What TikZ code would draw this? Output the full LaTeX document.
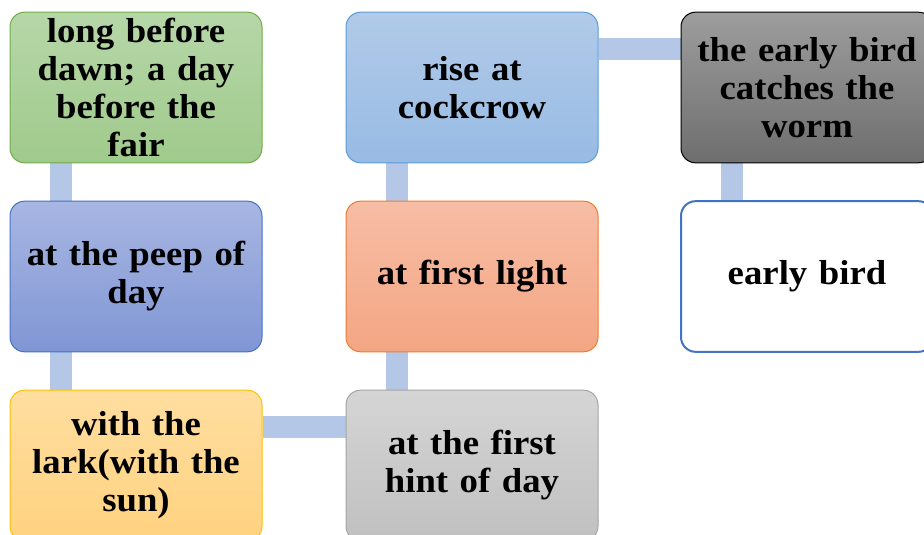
\documentclass[tikz,border=0pt]{standalone}
\usepackage{fontspec}
\setmainfont{Liberation Serif}
\newfontfamily\boxfont{Liberation Serif}[FakeStretch=1.06]
\usetikzlibrary{backgrounds}

\definecolor{linkblue}{HTML}{B4C7E7}
\definecolor{greenline}{HTML}{70AD47}
\definecolor{blueline}{HTML}{5B9BD5}
\definecolor{indigoline}{HTML}{4472C4}
\definecolor{orangeline}{HTML}{ED7D31}
\definecolor{goldline}{HTML}{FFC000}
\definecolor{greyline}{HTML}{A5A5A5}

\begin{document}
\begin{tikzpicture}[x=0.75pt, y=-0.75pt,
	font=\boxfont\bfseries\fontsize{26}{28.5}\selectfont,
	box/.style={rounded corners=11pt, minimum width=189pt, minimum height=113pt,
		text width=185pt, align=center, inner sep=0pt, line width=0.75pt},
	link/.style={draw=linkblue, line width=16.5pt}]
	%frame
	\useasboundingbox (0,0) rectangle (924,535);
	\clip (0,0) rectangle (924,535);
	
	%boxes
	\node[box, draw=greenline, top color={rgb,255:red,182;green,215;blue,168}, bottom color={rgb,255:red,160;green,202;blue,140}]
	(dawn) at (136,87.5) {long before\\dawn; a day\\before the\\fair};
	\node[box, draw=blueline, top color={rgb,255:red,177;green,202;blue,232}, bottom color={rgb,255:red,152;green,187;blue,228}]
	(cockcrow) at (472,87.5) {rise at\\cockcrow};
	\node[box, draw=black, top color={rgb,255:red,157;green,157;blue,157}, bottom color={rgb,255:red,110;green,110;blue,110}]
	(worm) at (807,87.5) {the early bird\\catches the\\worm};
	\node[box, draw=indigoline, top color={rgb,255:red,168;green,182;blue,226}, bottom color={rgb,255:red,128;green,150;blue,212}]
	(peep) at (136,276.5) {at the peep of\\day};
	\node[box, draw=orangeline, top color={rgb,255:red,247;green,189;blue,165}, bottom color={rgb,255:red,244;green,166;blue,131}]
	(light) at (472,276.5) {at first light};
	\node[box, draw=indigoline, line width=1.5pt, fill=white]
	(bird) at (807,276.5) {early bird};
	\node[box, draw=goldline, top color={rgb,255:red,255;green,222;blue,160}, bottom color={rgb,255:red,255;green,210;blue,127}]
	(lark) at (136,465.5) {with the\\lark(with the\\sun)};
	\node[box, draw=greyline, top color={rgb,255:red,213;green,213;blue,213}, bottom color={rgb,255:red,192;green,192;blue,192}]
	(hint) at (472,465.5) {at the first\\hint of day};
	
	%links
	\begin{pgfonlayer}{background}
		\draw[link] ([xshift=-56pt]dawn.south) -- ([xshift=-56pt]peep.north);
		\draw[link] ([xshift=-56pt]peep.south) -- ([xshift=-56pt]lark.north);
		\draw[link] ([yshift=29pt]lark.east) -- ([yshift=29pt]hint.west);
		\draw[link] ([xshift=-56pt]hint.north) -- ([xshift=-56pt]light.south);
		\draw[link] ([xshift=-56pt]light.north) -- ([xshift=-56pt]cockcrow.south);
		\draw[link] ([yshift=29pt]cockcrow.east) -- ([yshift=29pt]worm.west);
		\draw[link] ([xshift=-56pt]worm.south) -- ([xshift=-56pt]bird.north);
	\end{pgfonlayer}
\end{tikzpicture}
\end{document}
